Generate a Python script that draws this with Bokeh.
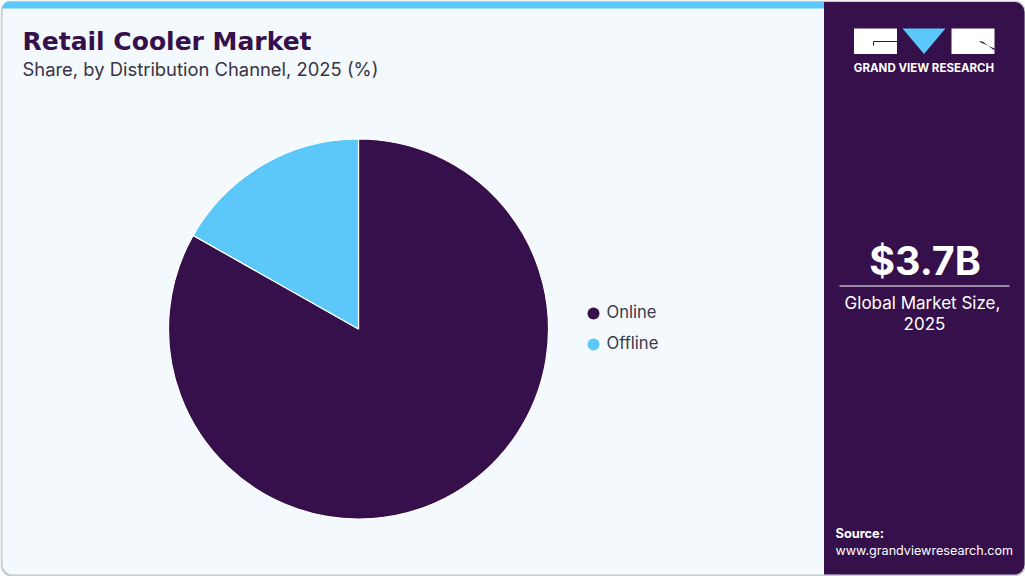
from math import pi
from bokeh.plotting import figure
from bokeh.models import Range1d
from bokeh.core.properties import value
from bokeh.embed import file_html
from bokeh.resources import INLINE

# ---- data ----
categories = ["Online", "Offline"]
shares = [83.2, 16.8]
slice_colors = ["#35104A", "#5BC8F9"]
title_text = "Retail Cooler Market"
subtitle_text = "Share, by Distribution Channel, 2025 (%)"
kpi_value = "$3.7B"
kpi_lines = ["Global Market Size,", "2025"]
source_lines = ["Source:", "www.grandviewresearch.com"]
logo_text = "GRAND VIEW RESEARCH"

PURPLE = "#35104A"
SKY = "#5BC8F9"
PANEL = "#F3F9FC"
W, H = 1025, 576


def Y(y):
    return H - y


p = figure(width=W, height=H, x_range=Range1d(0, W), y_range=Range1d(0, H),
           output_backend="svg", toolbar_location=None, min_border=0,
           x_axis_type=None, y_axis_type=None, outline_line_color=None,
           background_fill_color="white", border_fill_color="white")
p.grid.visible = False


def box(l, t, r, b, color, radius=0):
    p.quad(left=[l], right=[r], top=[Y(t)], bottom=[Y(b)], fill_color=color,
           line_color=None, border_radius=radius)


def label(x, y, s, size, color, style="normal", font="Inter", align="left"):
    p.text(x=[x], y=[Y(y)], text=[s], text_font=value(font), text_font_size=f"{size}px",
           text_font_style=style, text_color=color, text_align=align,
           text_baseline="middle")


# card frame, panel, top band
box(0, 0, W, H, "#C9CDCF", 11)
box(2, 1, 840, H - 2, PANEL, (10, 0, 0, 10))
box(2, 1, 840, 8, SKY, (8, 0, 0, 0))
box(823.5, 1.5, W - 1, H - 2, PURPLE, (0, 10, 10, 0))

# pie
cx, cy, radius = 358, 328.5, 190
total = sum(shares)
angle = pi / 2
for share, col in zip(shares, slice_colors):
    end = angle - 2 * pi * share / total
    p.wedge(x=[cx], y=[Y(cy)], radius=radius, start_angle=angle, end_angle=end,
            direction="clock", fill_color=col, line_color="white", line_width=1.2)
    angle = end

# legend
for i, (cat, col) in enumerate(zip(categories, slice_colors)):
    yy = 313 + i * 31
    p.scatter(x=[593], y=[Y(yy)], size=12, marker="circle", fill_color=col, line_color=None)
    label(606, yy - 1.5, cat, 16.6, "#3A3A4A")

# headings
label(22, 41, title_text, 25, PURPLE, "bold", "DejaVu Sans")
label(22, 68, subtitle_text, 18.4, "#3A3444")

# logo
box(853.5, 28, 896.5, 53.5, "white")
box(951, 28, 994, 53.5, "white")
p.patch(x=[902, 945, 923.5], y=[Y(28), Y(28), Y(53.5)], fill_color=SKY, line_color=None)
p.line(x=[896.5, 873, 873], y=[Y(41), Y(41), Y(45)], line_color=PURPLE, line_width=1)
p.patch(x=[978, 994, 994, 982], y=[Y(41), Y(48), Y(50), Y(41)], fill_color=PURPLE, line_color=None)
label(923.5, 67, logo_text, 11.5, "white", "bold", "Inter", "center")

# KPI
label(924.5, 260, kpi_value, 39.4, "white", "bold", "Inter", "center")
p.line(x=[839, 1009], y=[Y(285.5), Y(285.5)], line_color="white", line_width=1)
label(922, 302, kpi_lines[0], 17, "white", align="center")
label(924, 323, kpi_lines[1], 17, "white", align="center")

# source
label(835, 533, source_lines[0], 12.8, "white", "bold")
label(835, 550, source_lines[1], 12.6, "white")

html = file_html(p, INLINE)
html = html.replace("<head>", "<head><style>html,body{margin:0;padding:0;overflow:hidden}</style>", 1)
open("out.html", "w").write(html)
